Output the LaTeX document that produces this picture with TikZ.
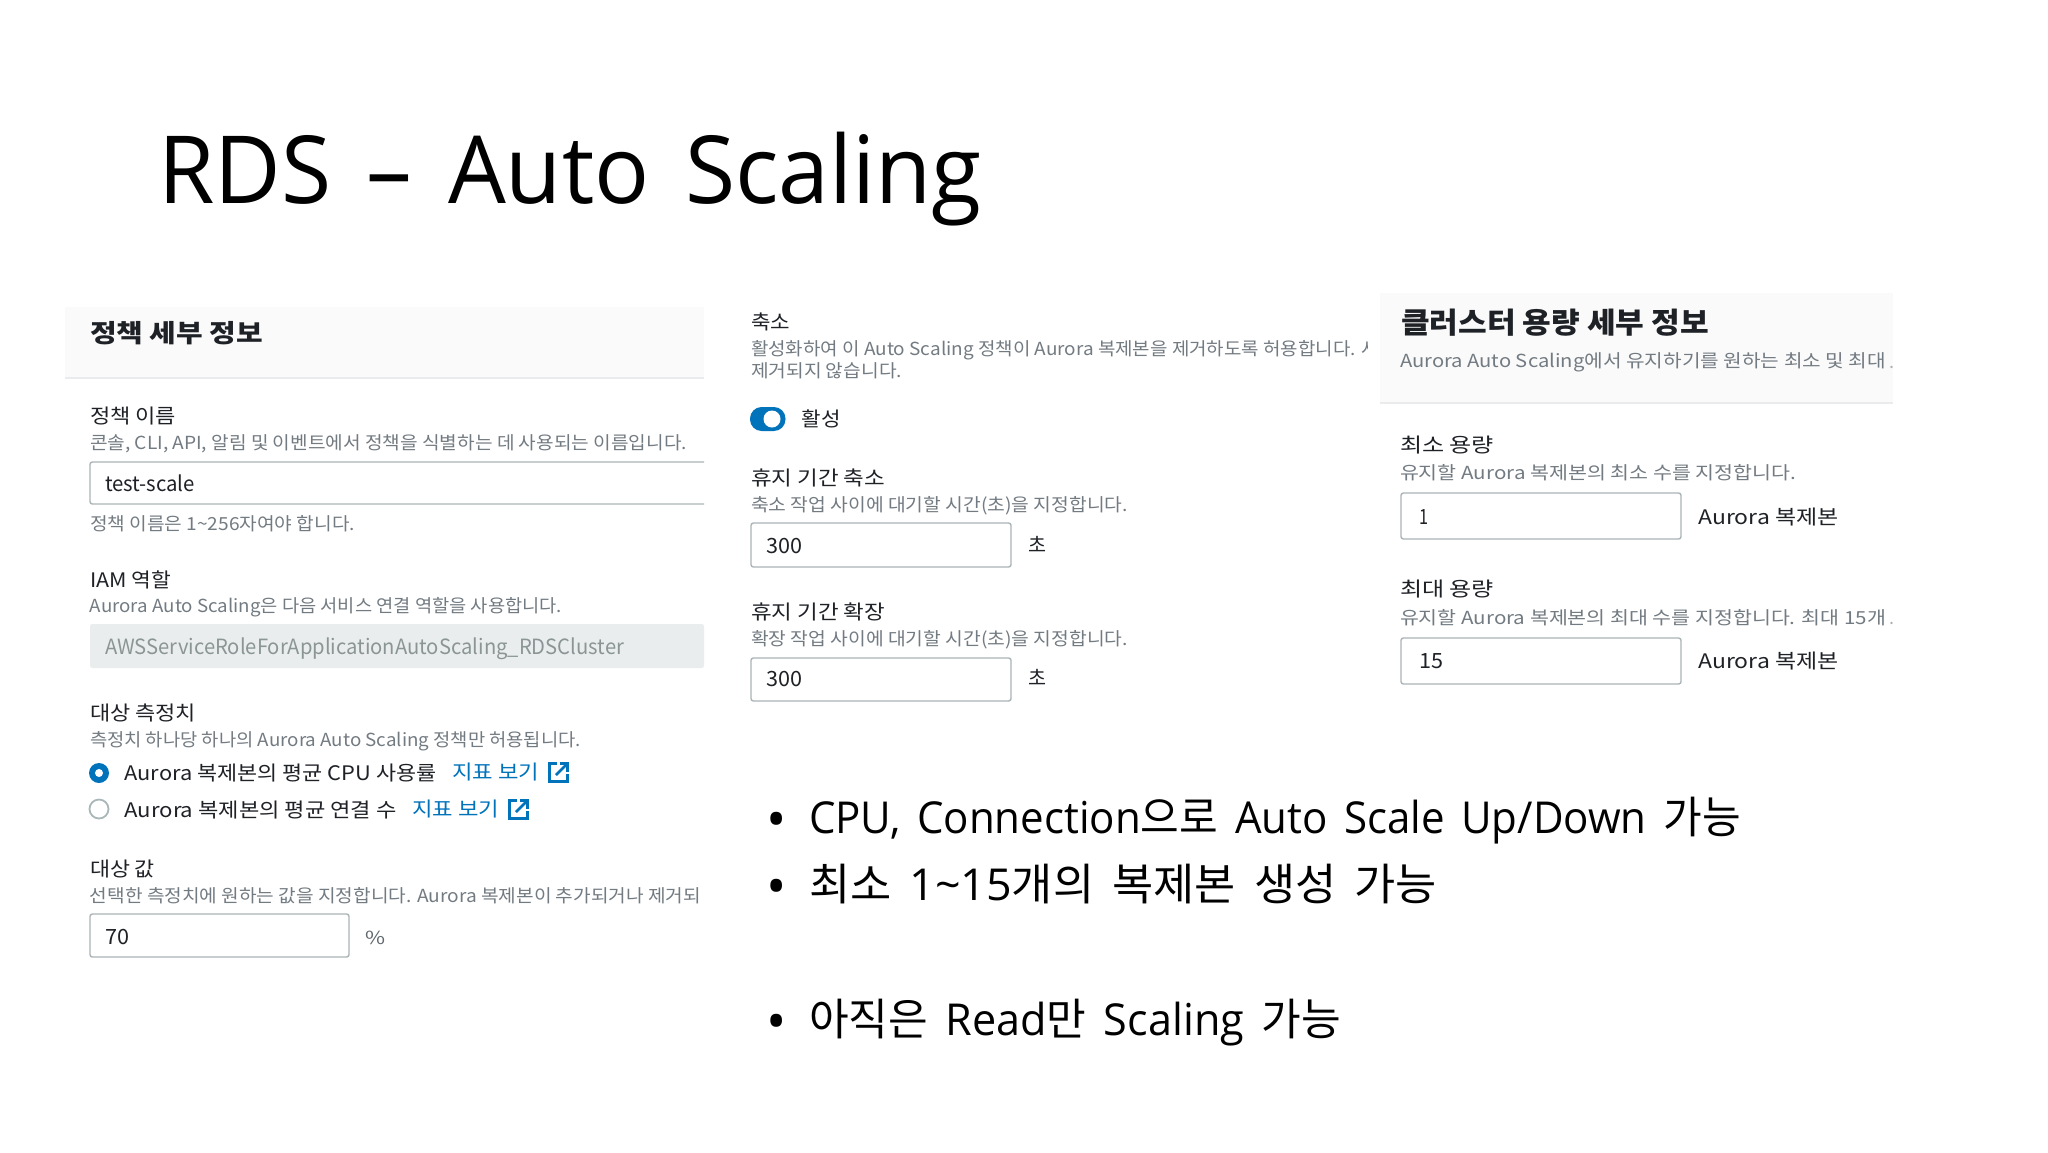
\documentclass[tikz,border=0pt]{standalone}
\usepackage{graphicx}
\usepackage{fontspec}
\setmainfont{Noto Sans CJK KR}
\newfontfamily\latfont{Open Sans}
\newfontfamily\latwide[WordSpace=1.15]{Open Sans}
\newfontfamily\titlefont[WordSpace=1.5]{Open Sans}
\newfontfamily\krwide[WordSpace=1.8]{Noto Sans CJK KR}
\definecolor{ink}{HTML}{1E2126}
\definecolor{hint}{HTML}{737B82}
\definecolor{aws}{HTML}{0073BB}
\definecolor{headbg}{HTML}{FAFAFA}
\definecolor{headline}{HTML}{E9EBEC}
\definecolor{fieldline}{HTML}{ABB4B6}
\definecolor{roline}{HTML}{AAB7B8}
\definecolor{robg}{HTML}{EAEDED}
\definecolor{rotext}{HTML}{8B9596}
\definecolor{unit}{HTML}{5F676E}
\newcommand\fitw[2]{\setbox0=\hbox{#2}\pgfmathsetmacro\fitr{#1*0.5/\the\wd0}\scalebox{\fitr}[1]{#2}}
\newcommand\exticon[2]{\begin{scope}[shift={(#1,#2)}]
\draw[iconline] (9,1.5) -- (1.5,1.5) -- (1.5,19.5) -- (19.5,19.5) -- (19.5,12);
\draw[iconline] (8,13) -- (19.5,1.5);
\draw[iconline] (11.5,1.5) -- (19.5,1.5) -- (19.5,9.5);
\end{scope}}
\tikzset{
 txt/.style={anchor=base west,inner sep=0pt,outer sep=0pt},
 head/.style={txt,text=ink,font=\fontsize{12.5}{15}\bfseries\selectfont},
 lab/.style={txt,text=ink,font=\fontsize{10}{12}\selectfont},
 hintt/.style={txt,text=hint,font=\fontsize{9}{11}\selectfont},
 val/.style={txt,text=ink,font=\fontsize{10.5}{12}\selectfont},
 link/.style={txt,text=aws,font=\fontsize{10}{12}\selectfont},
 slide/.style={txt,text=black,font=\fontsize{22}{26}\krwide\selectfont},
 bul/.style={anchor=base,inner sep=0pt,outer sep=0pt,text=black,font=\fontsize{27}{30}\latfont\selectfont},
 field/.style={draw=fieldline,line width=0.7pt,rounded corners=1.2pt,fill=white},
 iconline/.style={draw=aws,line width=1.35pt},
 headfill/.style={fill=headbg,draw=none},
 rule/.style={draw=headline,line width=0.7pt},
}
\begin{document}
\begin{tikzpicture}[x=0.5pt,y=-0.5pt]
\useasboundingbox[fill=white] (0,0) rectangle (2048,1152);
% title
\node[txt,text=black,font=\fontsize{47}{56}\titlefont\selectfont] (title) at (158,203) {\fitw{824}{RDS – Auto Scaling}};
% panel 1
\fill[headfill] (65,307) rectangle (704,378);
\draw[rule] (65,378) -- (704,378);
\node[head] (p1head) at (90,342) {\fitw{173}{정책 세부 정보}};
\node[lab] (p1a) at (90,423) {\fitw{86}{정책 이름}};
\node[hintt] (p1b) at (90,449) {\fitw{597}{콘솔, CLI, API, 알림 및 이벤트에서 정책을 식별하는 데 사용되는 이름입니다.}};
\draw[field,fill=none] (704,462) -- (90,462) -- (90,504) -- (704,504);
\node[val] (p1c) at (105,491) {\fitw{90}{test-scale}};
\node[hintt] (p1d) at (90,530) {\fitw{265}{정책 이름은 1\textasciitilde256자여야 합니다.}};
\node[lab] (p1e) at (90,587) {\fitw{81}{IAM 역할}};
\node[hintt] (p1f) at (90,612) {\fitw{472}{Aurora Auto Scaling은 다음 서비스 연결 역할을 사용합니다.}};
\fill[robg,rounded corners=1.2pt] (90,624) -- (704,624) -- (704,668) -- (90,668) -- cycle;
\node[val,text=rotext] (p1g) at (105,654) {\fitw{519}{AWSServiceRoleForApplicationAutoScaling\_RDSCluster}};
\node[lab] (p1h) at (90,720) {\fitw{106}{대상 측정치}};
\node[hintt] (p1i) at (90,746) {\fitw{491}{측정치 하나당 하나의 Aurora Auto Scaling 정책만 허용됩니다.}};
\fill[aws] (99,773) circle[radius=10];
\fill[white] (99,773) circle[radius=4];
\node[lab] (p1j) at (124.5,780) {\fitw{312}{Aurora 복제본의 평균 CPU 사용률}};
\node[link] (p1k) at (452,779) {\fitw{87}{지표 보기}};
\exticon{548}{762}
\draw[roline,line width=0.9pt,fill=white] (99,809) circle[radius=9.5];
\node[lab] (p1l) at (124.5,817) {\fitw{272}{Aurora 복제본의 평균 연결 수}};
\node[link] (p1m) at (412,816) {\fitw{87}{지표 보기}};
\exticon{508}{799}
\node[lab] (p1n) at (90,876) {\fitw{65}{대상 값}};
\node[hintt] (p1o) at (90,902) {\fitw{611}{선택한 측정치에 원하는 값을 지정합니다. Aurora 복제본이 추가되거나 제거되}};
\draw[field] (90,914) rectangle (349,957);
\node[val] (p1p) at (105,944) {\fitw{24}{70}};
\node[hintt,text=unit] (p1q) at (365,944) {\fitw{20}{\%}};
% panel 2
\node[lab] (p2a) at (751,329) {\fitw{39}{축소}};
\begin{scope}
\clip (745,335) rectangle (1367,365);
\node[hintt] (p2b) at (751,355) {\fitw{628}{활성화하여 이 Auto Scaling 정책이 Aurora 복제본을 제거하도록 허용합니다. 사}};
\end{scope}
\node[hintt] (p2c) at (751,377) {\fitw{151}{제거되지 않습니다.}};
\fill[aws,rounded corners=5.8pt] (750,407) rectangle (785.5,431);
\fill[white] (772,419) circle[radius=8.5];
\node[lab] (p2d) at (801.5,426) {\fitw{39}{활성}};
\node[lab] (p2e) at (751,485) {\fitw{134}{휴지 기간 축소}};
\node[hintt] (p2f) at (751,511) {\fitw{377}{축소 작업 사이에 대기할 시간(초)을 지정합니다.}};
\draw[field] (751,523) rectangle (1011,567);
\node[val] (p2g) at (766.5,553) {\fitw{36}{300}};
\node[lab] (p2h) at (1028,552) {\fitw{18}{초}};
\node[lab] (p2i) at (751,619) {\fitw{134}{휴지 기간 확장}};
\node[hintt] (p2j) at (751,645) {\fitw{377}{확장 작업 사이에 대기할 시간(초)을 지정합니다.}};
\draw[field] (751,658) rectangle (1011,701);
\node[val] (p2k) at (766.5,686) {\fitw{36}{300}};
\node[lab] (p2l) at (1028,685) {\fitw{18}{초}};
% panel 3
\fill[headfill] (1380,293) rectangle (1893,403);
\draw[rule] (1380,403) -- (1893,403);
\node[txt,text=ink,font=\fontsize{14.5}{17}\bfseries\selectfont] (p3a) at (1401,333) {\fitw{308}{클러스터 용량 세부 정보}};
\node[hintt] (p3b) at (1400,367.5) {\fitw{486}{Aurora Auto Scaling에서 유지하기를 원하는 최소 및 최대}};
\node[hintt,text=hint!60] (p3c) at (1889,368) {.};
\node[lab] (p3d) at (1400,452) {\fitw{94}{최소 용량}};
\node[hintt] (p3e) at (1400,479) {\fitw{396}{유지할 Aurora 복제본의 최소 수를 지정합니다.}};
\draw[field] (1401,493) rectangle (1681,539);
\node[val] (p3f) at (1419,524) {\fitw{9}{1}};
\node[lab] (p3g) at (1698.5,524) {\fitw{140}{Aurora 복제본}};
\node[lab] (p3h) at (1400,596) {\fitw{94}{최대 용량}};
\node[hintt] (p3i) at (1400,624) {\fitw{486}{유지할 Aurora 복제본의 최대 수를 지정합니다. 최대 15개}};
\node[hintt,text=hint!60] (p3j) at (1889,624) {.};
\draw[field] (1401,638) rectangle (1681,684);
\node[val] (p3k) at (1419,668) {\fitw{24}{15}};
\node[lab] (p3l) at (1698.5,668) {\fitw{140}{Aurora 복제본}};
% bullets
\node[bul] (b1) at (777,838) {•};
\node[slide] (b1t) at (809,833) {\fitw{932}{{\latwide CPU, Connection}으로 {\latwide Auto Scale Up/Down} 가능}};
\node[bul] (b2) at (777,905) {•};
\node[slide] (b2t) at (809,900) {\fitw{628}{최소 {\latwide 1\textasciitilde15}개의 복제본 생성 가능}};
\node[bul] (b3) at (777,1040) {•};
\node[slide] (b3t) at (809,1035) {\fitw{532}{아직은 {\latwide Read}만 {\latwide Scaling} 가능}};
\end{tikzpicture}
\end{document}
